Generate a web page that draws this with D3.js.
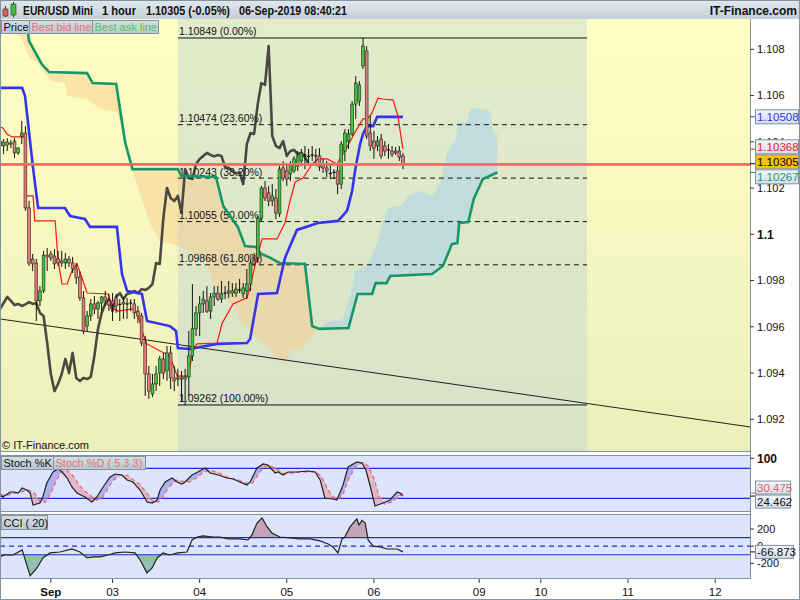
<!DOCTYPE html>
<html><head><meta charset="utf-8">
<script src="https://cdn.jsdelivr.net/npm/d3@7"></script>
<style>
body{margin:0;background:#fff;}
svg{display:block;font-family:"Liberation Sans",Arial,sans-serif;}
</style>
</head><body>
<svg id="c" width="800" height="600"></svg>
<script>
// ---------------- DATA ----------------
// hourly candles [open, high, low, close], bar index = array position
const candles = [
[1.10403,1.10421,1.10360,1.10382],[1.10382,1.10412,1.10347,1.10399],[1.10399,1.10416,1.10360,1.10386],[1.10390,1.10408,1.10373,1.10395],
[1.10403,1.10416,1.10330,1.10352],[1.10352,1.10377,1.10343,1.10373],[1.10425,1.10490,1.10390,1.10438],[1.10438,1.10468,1.10101,1.10114],
[1.10114,1.10144,1.09863,1.09876],[1.09893,1.09915,1.09841,1.09872],[1.09876,1.09893,1.09625,1.09712],[1.09712,1.09776,1.09690,1.09755],
[1.09755,1.09928,1.09746,1.09910],[1.09910,1.09941,1.09841,1.09902],[1.09915,1.09928,1.09885,1.09898],[1.09906,1.09936,1.09850,1.09872],
[1.09893,1.09928,1.09863,1.09876],[1.09885,1.09928,1.09859,1.09876],[1.09876,1.09919,1.09850,1.09893],[1.09893,1.09906,1.09859,1.09876],
[1.09876,1.09902,1.09833,1.09850],[1.09850,1.09876,1.09785,1.09811],[1.09815,1.09841,1.09712,1.09725],[1.09725,1.09755,1.09569,1.09582],
[1.09603,1.09668,1.09582,1.09647],[1.09647,1.09720,1.09625,1.09699],[1.09699,1.09733,1.09655,1.09677],[1.09677,1.09712,1.09634,1.09703],
[1.09703,1.09733,1.09668,1.09729],[1.09729,1.09755,1.09690,1.09712],[1.09712,1.09742,1.09668,1.09694],[1.09712,1.09746,1.09625,1.09699],
[1.09725,1.09742,1.09660,1.09690],[1.09699,1.09720,1.09625,1.09697],[1.09699,1.09729,1.09634,1.09707],[1.09703,1.09725,1.09634,1.09699],
[1.09699,1.09720,1.09668,1.09703],[1.09699,1.09720,1.09634,1.09660],[1.09668,1.09690,1.09616,1.09647],[1.09647,1.09660,1.09517,1.09530],
[1.09530,1.09560,1.09301,1.09396],[1.09396,1.09431,1.09288,1.09322],[1.09309,1.09396,1.09296,1.09353],[1.09353,1.09431,1.09322,1.09396],
[1.09400,1.09474,1.09344,1.09461],[1.09461,1.09487,1.09374,1.09400],[1.09409,1.09517,1.09366,1.09487],[1.09487,1.09517,1.09331,1.09379],
[1.09379,1.09431,1.09322,1.09366],[1.09374,1.09418,1.09344,1.09379],[1.09379,1.09409,1.09279,1.09374],[1.09374,1.09418,1.09262,1.09383],
[1.09383,1.09582,1.09301,1.09474],[1.09474,1.09785,1.09452,1.09591],[1.09591,1.09690,1.09560,1.09660],[1.09660,1.09733,1.09560,1.09699],
[1.09699,1.09755,1.09660,1.09720],[1.09712,1.09776,1.09660,1.09668],[1.09668,1.09746,1.09634,1.09729],[1.09729,1.09776,1.09690,1.09746],
[1.09746,1.09776,1.09712,1.09720],[1.09720,1.09798,1.09703,1.09742],[1.09742,1.09776,1.09720,1.09746],[1.09746,1.09798,1.09725,1.09755],
[1.09755,1.09789,1.09729,1.09746],[1.09746,1.09789,1.09729,1.09763],[1.09763,1.09807,1.09746,1.09759],[1.09742,1.09789,1.09725,1.09768],
[1.09755,1.09850,1.09720,1.09785],[1.09785,1.09893,1.09755,1.09876],[1.09885,1.09919,1.09863,1.09872],[1.09898,1.10079,1.09876,1.10070],
[1.10070,1.10209,1.10058,1.10200],[1.10200,1.10230,1.10144,1.10157],[1.10179,1.10209,1.10122,1.10144],[1.10144,1.10217,1.10122,1.10166],
[1.10157,1.10196,1.10066,1.10092],[1.10088,1.10295,1.10075,1.10282],[1.10287,1.10317,1.10230,1.10243],[1.10274,1.10304,1.10209,1.10239],
[1.10261,1.10317,1.10230,1.10304],[1.10274,1.10339,1.10265,1.10326],[1.10295,1.10360,1.10274,1.10339],[1.10317,1.10369,1.10295,1.10352],
[1.10339,1.10382,1.10282,1.10343],[1.10339,1.10369,1.10308,1.10337],[1.10339,1.10382,1.10317,1.10343],[1.10343,1.10369,1.10295,1.10339],
[1.10339,1.10373,1.10274,1.10291],[1.10304,1.10326,1.10265,1.10287],[1.10287,1.10317,1.10248,1.10274],[1.10265,1.10304,1.10239,1.10263],
[1.10265,1.10282,1.10239,1.10268],[1.10274,1.10308,1.10174,1.10217],[1.10217,1.10403,1.10196,1.10390],[1.10360,1.10455,1.10317,1.10438],
[1.10403,1.10455,1.10369,1.10434],[1.10434,1.10576,1.10425,1.10563],[1.10563,1.10684,1.10499,1.10654],[1.10576,1.10663,1.10555,1.10646],
[1.10728,1.10849,1.10715,1.10814],[1.10793,1.10814,1.10412,1.10425],[1.10438,1.10512,1.10360,1.10382],[1.10403,1.10447,1.10326,1.10373],
[1.10382,1.10425,1.10360,1.10403],[1.10412,1.10434,1.10326,1.10339],[1.10382,1.10403,1.10339,1.10360],[1.10369,1.10390,1.10326,1.10365],
[1.10360,1.10382,1.10334,1.10347],[1.10360,1.10377,1.10343,1.10352],[1.10360,1.10382,1.10317,1.10334],[1.10339,1.10352,1.10282,1.10305]
];
const chikouShift = 26;
// [bar index, price]
const tenkan = [[0,1.10464],[0.8,1.10460],[1.9,1.10434],[3.3,1.10421],[6.9,1.10421],[7.2,1.10166],[9.1,1.10166],[9.6,1.10058],[15.2,1.10058],[16,1.09885],[17.1,1.09785],[18.5,1.09785],[19.8,1.09841],[21.2,1.09872],[22.6,1.09811],[24,1.09746],[29.8,1.09742],[31.1,1.09681],[32.5,1.09668],[36.6,1.09677],[38,1.09655],[39.4,1.09569],[40.5,1.09526],[44.1,1.09495],[46.8,1.09474],[48.8,1.09387],[51.5,1.09387],[52.3,1.09422],[53.2,1.09508],[54.3,1.09526],[59.8,1.09530],[61.2,1.09616],[64.2,1.09699],[68,1.09725],[68.9,1.09768],[70.2,1.09863],[72.2,1.09980],[76.3,1.09980],[78.5,1.10049],[79.9,1.10144],[81.3,1.10226],[83.5,1.10243],[86,1.10304],[87.6,1.10326],[90.1,1.10326],[92.8,1.10304],[95,1.10360],[98.3,1.10455],[100,1.10499],[101.4,1.10503],[102.5,1.10525],[104.1,1.10589],[105.5,1.10585],[108.3,1.10580],[109.6,1.10512],[111,1.10368]];
const kijun = [[0,1.10633],[6.1,1.10633],[6.9,1.10598],[9.1,1.10287],[10.5,1.10114],[17.9,1.10114],[19.3,1.10079],[23.4,1.10066],[24.8,1.10032],[32.2,1.10032],[33.6,1.09828],[35,1.09755],[39.1,1.09742],[40.5,1.09625],[46.8,1.09603],[48.5,1.09582],[49,1.09508],[52.3,1.09504],[59.8,1.09526],[68,1.09530],[68.9,1.09547],[71.1,1.09742],[76.3,1.09746],[78.5,1.09898],[81.8,1.10019],[87.6,1.10049],[93.1,1.10058],[95.6,1.10101],[97,1.10187],[97.8,1.10274],[98.3,1.10317],[99.2,1.10390],[100,1.10434],[101.1,1.10468],[102.8,1.10468],[103.9,1.10508],[111,1.10508]];
const spanA = [[0,1.10888],[5.5,1.10857],[8.3,1.10758],[9.9,1.10749],[14,1.10663],[17.9,1.10654],[18.5,1.10598],[24,1.10585],[27.5,1.10542],[32.2,1.10529],[33.6,1.10450],[35,1.10350],[36.4,1.10280],[38.6,1.10174],[41.3,1.10045],[44.1,1.09971],[49,1.09949],[55.1,1.09906],[57,1.09872],[58.7,1.09785],[65.3,1.09668],[66.1,1.09625],[70.8,1.09552],[74.4,1.09508],[76.3,1.09452],[79.1,1.09452],[79.9,1.09495],[83.5,1.09508],[85.4,1.09552],[87.3,1.09591],[90.1,1.09621],[94.5,1.09634],[96.4,1.09725],[97.8,1.09841],[101.1,1.09863],[103.9,1.09958],[105.5,1.10058],[106.9,1.10114],[110.7,1.10127],[112.1,1.10157],[113.8,1.10179],[116.3,1.10187],[117.6,1.10174],[119.3,1.10170],[121.2,1.10217],[122,1.10274],[123.1,1.10347],[124.5,1.10395],[125.3,1.10395],[126.2,1.10481],[128.7,1.10486],[129.5,1.10542],[130.3,1.10546],[135,1.10533],[135.8,1.10447],[137,1.10434]];
const spanB = [[0,1.10914],[7.5,1.10900],[8,1.10836],[11.5,1.10736],[13.5,1.10702],[24,1.10697],[25.5,1.10654],[32,1.10650],[34.5,1.10395],[36.5,1.10282],[49,1.10282],[50,1.10252],[59.5,1.10248],[61.5,1.10122],[65.5,1.10032],[67.5,1.09949],[70.5,1.09945],[72,1.09915],[74.5,1.09898],[77,1.09876],[84,1.09872],[86,1.09603],[88,1.09591],[96,1.09595],[98.5,1.09742],[102.5,1.09742],[103.5,1.09789],[106.5,1.09789],[107.5,1.09820],[119,1.09828],[122,1.09863],[124.5,1.09958],[126,1.09962],[126.5,1.10049],[129,1.10053],[130.5,1.10153],[133,1.10239],[137,1.10267]];
const trendLine = [[0,1.09634],[206.6,1.09167]];
const fibLevels = [1.10849,1.10474,1.10243,1.10055,1.09868,1.09262];
const fibPct = ["0.00%","23.60%","38.20%","50.00%","61.80%","100.00%"];
const fibRange = [49,161.7];
const lastBid = 1.10305;
const priceTicks = [1.092,1.094,1.096,1.098,1.1,1.102,1.104,1.106,1.108];
const stochK = [[0,26.6],[0.8,22.6],[2.8,32.6],[4.1,32.6],[5,30.6],[6.1,40.6],[7.4,36.6],[8.3,30.6],[9.1,6.6],[11,10.6],[11.8,22.6],[12.9,50.6],[14.6,72.6],[16,78.6],[17.1,72.6],[18.5,60.6],[19.8,42.6],[21.2,30.6],[23.4,22.6],[25.3,12.6],[26.7,22.6],[28.4,42.6],[30.3,62.6],[31.7,68.6],[33.6,66.6],[35,56.6],[36.6,52.6],[38.6,36.6],[40.5,12.6],[41.9,10.6],[43.3,16.6],[44.1,36.6],[45.5,52.6],[47.4,60.6],[48.8,52.6],[50.1,48.6],[51,52.6],[52.9,66.6],[54.5,72.6],[56.5,80.6],[57.9,70.6],[60.1,66.6],[62.5,60.6],[64.2,58.6],[68,46.6],[68.9,52.6],[70.8,80.6],[72.5,88.6],[73.8,86.6],[75.8,70.6],[76.6,72.6],[78,66.6],[79.3,72.6],[81.8,72.6],[84.8,74.6],[86.8,72.6],[88.2,56.6],[89.5,20.6],[91.7,18.6],[92.8,16.6],[94.5,46.6],[95.9,82.6],[98.3,92.6],[99.7,90.6],[100.8,76.6],[101.9,46.6],[103.3,4.6],[105.5,10.6],[107.4,16.6],[109.4,32.6],[110.2,30.6],[111,24.462]];
const stochD = [[0,28],[2,26],[4,30],[6,33],[8,36],[9.5,30],[11,14],[12.5,12],[14,30],[15.5,55],[17,74],[18.5,76],[20,66],[21.5,50],[23,36],[25,25],[26.5,16],[28,20],[29.5,36],[31,55],[33,66],[35,66],[36.5,58],[38.5,48],[40.5,30],[42,15],[43.5,12],[45,24],[46.5,42],[48.5,56],[50.5,54],[52,52],[54,60],[56,72],[58,76],[60,72],[62,64],[64,60],[66,56],[68,50],[69.5,50],[71,66],[72.5,82],[74,86],[76,80],[78,70],[80,70],[82,72],[85,73],[87,73],[88.5,64],[90,42],[91.5,24],[93,18],[94.5,28],[96,58],[98,84],[100,92],[101.5,84],[103,60],[104.5,22],[106,8],[108,13],[110,24],[111,30.475]];
const stochLevels = [80,20];
const cci = [[0,-122],[1.4,-103],[3.6,-103],[6.1,-44],[8.3,-347],[10.2,-254],[11.8,-138],[13.8,-79],[16.5,-68],[19.8,-33],[22,-68],[24,-138],[25.6,-126],[27.5,-126],[29.8,-103],[31.7,-79],[34.4,-68],[37.2,-79],[38.6,-161],[40.5,-312],[41.9,-254],[43.3,-138],[44.9,-79],[46.8,-103],[49,-79],[51.5,-68],[52.9,72],[54.3,107],[55.9,119],[58.7,107],[60.6,107],[62.8,84],[66.1,84],[68.3,72],[69.4,131],[70.8,270],[72.2,329],[73.6,224],[74.9,154],[77.1,107],[79.9,96],[82.6,84],[85.4,84],[88.2,61],[90.4,26],[91.7,-9],[93.1,-79],[94.2,84],[95,107],[96.4,224],[98.3,317],[98.9,247],[99.7,300],[100.6,270],[101.4,72],[102.8,0],[104.7,-9],[106.6,-33],[109.4,-33],[111,-66.873]];
const cciTicks = [200,0,-200];
const dayIdx = [14,31,55,79,103,132,149,173,197];
const dayLabels = ["Sep","03","04","05","06","09","10","11","12"];
const headerTexts = ["EUR/USD Mini","1 hour","1.10305 (-0.05%)","06-Sep-2019 08:40:21"];

// ---------------- LAYOUT ----------------
const svg = d3.select('#c');
const R = 750, mainTop = 19, mainBot = 451, stTop = 455, stBot = 511, cTop = 514, cBot = 578;
const x = d3.scaleLinear().domain([0,206.6]).range([0,R]);
const y = d3.scaleLinear().domain([1.092,1.108]).range([419.3,49.3]);
const ys = d3.scaleLinear().domain([0,100]).range([508.3,458.3]);
const yc = d3.scaleLinear().domain([-200,200]).range([563.3,529]);

const defs = svg.append('defs');
function grad(id,c1,c2){const g=defs.append('linearGradient').attr('id',id).attr('x1',0).attr('y1',0).attr('x2',0).attr('y2',1);
  g.append('stop').attr('offset','0%').attr('stop-color',c1);g.append('stop').attr('offset','100%').attr('stop-color',c2);}
grad('bgMain','#ffffc3','#edefbc');
grad('hdr','#e2e9ee','#c2cfd8');
grad('lbl','#f3f6fb','#d3ddea');
grad('btn','#d5dee4','#b9c7d1');
function clipRect(id,x0,y0,w,h){defs.append('clipPath').attr('id',id).append('rect').attr('x',x0).attr('y',y0).attr('width',w).attr('height',h);}
clipRect('cMain',0,mainTop,R,mainBot-mainTop);
clipRect('cSt',0,stTop,R,stBot-stTop);
clipRect('cCci',0,cTop,R,cBot-cTop);

const line = d3.line().x(d=>x(d[0])).y(d=>y(d[1]));

// header
svg.append('rect').attr('x',0).attr('y',0).attr('width',800).attr('height',mainTop).attr('fill','url(#hdr)');
svg.append('line').attr('x1',5.5).attr('x2',5.5).attr('y1',6).attr('y2',17).attr('stroke','#333');
svg.append('rect').attr('x',3).attr('y',9).attr('width',5).attr('height',7).attr('fill','#e06060').attr('stroke','#333').attr('stroke-width',0.6);
svg.append('line').attr('x1',13.5).attr('x2',13.5).attr('y1',2).attr('y2',17).attr('stroke','#333');
svg.append('rect').attr('x',11).attr('y',4).attr('width',5).attr('height',11).attr('fill','#40c040').attr('stroke','#333').attr('stroke-width',0.6);
const hdrX = [23,102,146,239], hdrW = [70,34,84,108];
headerTexts.forEach((t,i)=>{
  svg.append('text').attr('x',hdrX[i]).attr('y',15).attr('font-size',12).attr('font-weight','bold').attr('fill','#111')
    .attr('textLength',hdrW[i]).attr('lengthAdjust','spacingAndGlyphs').text(t);
});
svg.append('text').attr('x',797).attr('y',15).attr('text-anchor','end').attr('font-size',12).attr('font-weight','bold').attr('fill','#111').text('IT-Finance.com');

// main panel
svg.append('rect').attr('x',0).attr('y',mainTop).attr('width',R).attr('height',mainBot-mainTop).attr('fill','url(#bgMain)');
const gm = svg.append('g').attr('clip-path','url(#cMain)');
gm.append('rect').attr('x',x(fibRange[0])).attr('y',mainTop).attr('width',x(fibRange[1])-x(fibRange[0])).attr('height',mainBot-mainTop)
  .attr('fill','#b9d0d8').attr('opacity',0.4);
const areaAbove = d3.area().x(d=>x(d[0])).y0(0).y1(d=>y(d[1]));
const areaBelow = d3.area().x(d=>x(d[0])).y0(600).y1(d=>y(d[1]));
defs.append('clipPath').attr('id','aboveB').append('path').attr('d',areaAbove(spanB));
defs.append('clipPath').attr('id','belowB').append('path').attr('d',areaBelow(spanB));
const cloudPoly = line(spanA.concat(spanB.slice().reverse()))+'Z';
gm.append('path').attr('d',cloudPoly).attr('fill','#f8c78a').attr('opacity',0.45).attr('clip-path','url(#belowB)');
gm.append('path').attr('d',cloudPoly).attr('fill','#a6cff0').attr('opacity',0.5).attr('clip-path','url(#aboveB)');

fibLevels.forEach((v,i)=>{
  const solid = (i===0||i===fibLevels.length-1);
  gm.append('line').attr('x1',x(fibRange[0])).attr('x2',x(fibRange[1])).attr('y1',y(v)).attr('y2',y(v))
    .attr('stroke','#111').attr('stroke-width',1).attr('stroke-dasharray',solid?null:'5,4');
  gm.append('text').attr('x',x(fibRange[0])+1).attr('y',y(v)-2.5).attr('font-size',10.5).attr('fill','#111')
    .text(v.toFixed(5)+' ('+fibPct[i]+')');
});
gm.append('path').attr('d',line(trendLine)).attr('stroke','#222').attr('stroke-width',1).attr('fill','none');
const chikou = candles.map((c,i)=>[i-chikouShift,c[3]]).filter(d=>d[0]>=-2);
gm.append('path').attr('d',line(chikou)).attr('stroke','#2d2d2d').attr('stroke-opacity',0.85).attr('stroke-width',2.6).attr('fill','none').attr('stroke-linejoin','round');
gm.append('path').attr('d',line(spanB)).attr('stroke','#16976a').attr('stroke-width',2.6).attr('fill','none');
gm.append('path').attr('d',line(kijun)).attr('stroke','#3434f0').attr('stroke-width',2.6).attr('fill','none');
gm.append('path').attr('d',line(tenkan)).attr('stroke','#ff1414').attr('stroke-width',1.2).attr('fill','none');
const cg = gm.append('g');
candles.forEach((c,i)=>{
  const [o,h,l,cl]=c, xi=x(i);
  cg.append('line').attr('x1',xi).attr('x2',xi).attr('y1',y(h)).attr('y2',y(l)).attr('stroke','#111').attr('stroke-width',1);
  const top=Math.min(y(o),y(cl)), ht=Math.abs(y(o)-y(cl));
  if(ht<1){ cg.append('line').attr('x1',xi-1.6).attr('x2',xi+1.6).attr('y1',y(cl)).attr('y2',y(cl)).attr('stroke','#111').attr('stroke-width',1.2); }
  else cg.append('rect').attr('x',xi-1.4).attr('y',top).attr('width',2.8).attr('height',ht)
    .attr('fill',cl>o?'#3ec63e':'#ea7a7a').attr('stroke','#222').attr('stroke-width',0.6);
});
// bid (red) and ask (green) lines, ask drawn as the row just above the bid
const yBid = Math.round(y(lastBid)) + 0.9;
gm.append('line').attr('x1',0).attr('x2',R).attr('y1',yBid-1.4).attr('y2',yBid-1.4).attr('stroke','#5cc85c').attr('stroke-width',1);
gm.append('line').attr('x1',0).attr('x2',R).attr('y1',yBid).attr('y2',yBid).attr('stroke','#ec6464').attr('stroke-width',1.8);

const btns=[[1,28,'Price','#111'],[29,63,'Best bid line','#e87070'],[92,66,'Best ask line','#4fc94f']];
btns.forEach(b=>{
  svg.append('rect').attr('x',b[0]+0.5).attr('y',20.5).attr('width',b[1]).attr('height',13).attr('fill','url(#btn)').attr('stroke','#8293a2');
  svg.append('text').attr('x',b[0]+2.5).attr('y',31).attr('font-size',11).attr('fill',b[3]).text(b[2]);
});
svg.append('text').attr('x',2).attr('y',449).attr('font-size',11).attr('fill','#111').text('\u00A9 IT-Finance.com');

svg.append('line').attr('x1',R+0.5).attr('x2',R+0.5).attr('y1',mainTop).attr('y2',cBot).attr('stroke','#8293a2');
svg.append('line').attr('x1',0).attr('x2',R).attr('y1',mainBot+0.5).attr('y2',mainBot+0.5).attr('stroke','#8293a2');

priceTicks.forEach(v=>{
  svg.append('line').attr('x1',R).attr('x2',R+4).attr('y1',y(v)).attr('y2',y(v)).attr('stroke','#333');
  svg.append('text').attr('x',R+7).attr('y',y(v)).attr('dy','0.35em').attr('font-size',v===1.1?12:11)
    .attr('font-weight',v===1.1?'bold':'normal').attr('fill','#111').text(v===1.1?'1.1':v.toFixed(3));
});
function spread(items,h){items.sort((a,b)=>a.y-b.y);for(let k=0;k<40;k++){for(let i=1;i<items.length;i++){const d=items[i].y-items[i-1].y;if(d<h){const s=(h-d)/2;items[i].y+=s;items[i-1].y-=s;}}}return items;}
function drawLabels(items,h,w){
  items.forEach(d=>{d.y0=d.y;});
  spread(items,h);
  items.forEach(d=>{
    svg.append('line').attr('x1',R).attr('x2',R+5).attr('y1',d.y0).attr('y2',d.y0).attr('stroke',d.tick||d.color);
    svg.append('rect').attr('x',R+5.5).attr('y',d.y-h/2+0.5).attr('width',w).attr('height',h-1).attr('fill',d.fill||'url(#lbl)').attr('stroke','#7f91a2');
    svg.append('text').attr('x',R+7).attr('y',d.y).attr('dy','0.36em').attr('font-size',11.5).attr('fill',d.color).text(d.t);
  });
}
drawLabels([
  {y:y(kijun[kijun.length-1][1]),t:kijun[kijun.length-1][1].toFixed(5),color:'#3434f0'},
  {y:y(tenkan[tenkan.length-1][1]),t:tenkan[tenkan.length-1][1].toFixed(5),color:'#f02020'},
  {y:y(lastBid),t:lastBid.toFixed(5),color:'#000',fill:'#f6c400'},
  {y:y(spanB[spanB.length-1][1]),t:spanB[spanB.length-1][1].toFixed(5),color:'#119a6a'}
],15,43);

// stochastic panel
svg.append('rect').attr('x',0.5).attr('y',stTop+0.5).attr('width',R).attr('height',stBot-stTop).attr('fill','#dce5fb').attr('stroke','#8293a2');
const gs = svg.append('g').attr('clip-path','url(#cSt)');
stochLevels.forEach(v=>gs.append('line').attr('x1',0).attr('x2',R).attr('y1',ys(v)).attr('y2',ys(v)).attr('stroke','#2a2ad8').attr('stroke-width',1.2));
const sl = d3.line().x(d=>x(d[0])).y(d=>ys(d[1]));
defs.append('clipPath').attr('id','aboveD').append('path').attr('d',d3.area().x(d=>x(d[0])).y0(0).y1(d=>ys(d[1]))(stochD));
defs.append('clipPath').attr('id','belowD').append('path').attr('d',d3.area().x(d=>x(d[0])).y0(600).y1(d=>ys(d[1]))(stochD));
const kdPoly = sl(stochK.concat(stochD.slice().reverse()))+'Z';
gs.append('path').attr('d',kdPoly).attr('fill','#8f8ff0').attr('opacity',0.6).attr('clip-path','url(#aboveD)');
gs.append('path').attr('d',kdPoly).attr('fill','#e39aa8').attr('opacity',0.6).attr('clip-path','url(#belowD)');
gs.append('path').attr('d',sl(stochD)).attr('stroke','#ee6a6a').attr('stroke-width',1.3).attr('stroke-dasharray','4,3').attr('fill','none');
gs.append('path').attr('d',sl(stochK)).attr('stroke','#222').attr('stroke-width',1.2).attr('fill','none');
[[1,52,'Stoch %K','#111'],[53,92,'Stoch %D ( 5 3 3)','#e87070']].forEach(b=>{
  svg.append('rect').attr('x',b[0]+0.5).attr('y',stTop+1.5).attr('width',b[1]).attr('height',13).attr('fill','url(#btn)').attr('stroke','#8293a2');
  svg.append('text').attr('x',b[0]+2.5).attr('y',stTop+12).attr('font-size',11).attr('fill',b[3]).text(b[2]);
});
svg.append('line').attr('x1',R).attr('x2',R+4).attr('y1',ys(100)).attr('y2',ys(100)).attr('stroke','#333');
svg.append('text').attr('x',R+7).attr('y',ys(100)).attr('dy','0.38em').attr('font-size',12).attr('font-weight','bold').attr('fill','#111').text('100');
drawLabels([
  {y:ys(stochD[stochD.length-1][1]),t:stochD[stochD.length-1][1].toFixed(3),color:'#e86060'},
  {y:ys(stochK[stochK.length-1][1]),t:stochK[stochK.length-1][1].toFixed(3),color:'#111'}
],14,35);

// CCI panel
svg.append('rect').attr('x',0.5).attr('y',cTop+0.5).attr('width',R).attr('height',cBot-cTop).attr('fill','#dce5fb').attr('stroke','#8293a2');
const gc = svg.append('g').attr('clip-path','url(#cCci)');
const cl = d3.line().x(d=>x(d[0])).y(d=>yc(d[1]));
clipRect('cciUp',0,0,R,yc(100));
clipRect('cciDn',0,yc(-100),R,200);
gc.append('path').attr('d',d3.area().x(d=>x(d[0])).y0(yc(100)).y1(d=>yc(d[1]))(cci)).attr('fill','#b47888').attr('opacity',0.6).attr('clip-path','url(#cciUp)');
gc.append('path').attr('d',d3.area().x(d=>x(d[0])).y0(yc(-100)).y1(d=>yc(d[1]))(cci)).attr('fill','#5fa67e').attr('opacity',0.6).attr('clip-path','url(#cciDn)');
[100,-100].forEach(v=>gc.append('line').attr('x1',0).attr('x2',R).attr('y1',yc(v)).attr('y2',yc(v)).attr('stroke','#2a2ad8').attr('stroke-width',1.2));
gc.append('line').attr('x1',0).attr('x2',R).attr('y1',yc(0)).attr('y2',yc(0)).attr('stroke','#2a2ad8').attr('stroke-width',1.2).attr('stroke-dasharray','5,4');
gc.append('path').attr('d',cl(cci)).attr('stroke','#222').attr('stroke-width',1.2).attr('fill','none');
svg.append('rect').attr('x',1.5).attr('y',cTop+1.5).attr('width',46).attr('height',14).attr('fill','url(#btn)').attr('stroke','#8293a2');
svg.append('text').attr('x',3.5).attr('y',cTop+12.5).attr('font-size',11).attr('fill','#111').text('CCI ( 20)');
cciTicks.forEach(v=>{
  svg.append('line').attr('x1',R).attr('x2',R+4).attr('y1',yc(v)).attr('y2',yc(v)).attr('stroke','#333');
  svg.append('text').attr('x',R+7).attr('y',yc(v)).attr('dy','0.35em').attr('font-size',11).attr('fill','#111').text(v);
});
drawLabels([{y:yc(cci[cci.length-1][1]),t:cci[cci.length-1][1].toFixed(3),color:'#111'}],14,38);

// x axis
dayIdx.forEach((d,i)=>{
  svg.append('line').attr('x1',x(d)).attr('x2',x(d)).attr('y1',cBot+1).attr('y2',cBot+5).attr('stroke','#333');
  svg.append('text').attr('x',x(d)).attr('y',596).attr('text-anchor','middle').attr('font-size',11.5)
    .attr('font-weight',i===0?'bold':'normal').attr('fill','#111').text(dayLabels[i]);
});
svg.append('rect').attr('x',0.5).attr('y',0.5).attr('width',799).attr('height',599).attr('fill','none').attr('stroke','#8293a2');
</script>
</body></html>
